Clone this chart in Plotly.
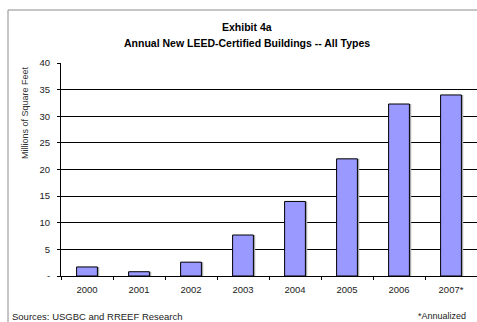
import plotly.graph_objects as go

years = ["2000", "2001", "2002", "2003", "2004", "2005", "2006", "2007*"]
values = [1.7, 0.8, 2.6, 7.7, 14.0, 22.0, 32.3, 34.0]
ytick_vals = [0, 5, 10, 15, 20, 25, 30, 35, 40]
ytick_text = ["-", "5", "10", "15", "20", "25", "30", "35", "40"]

W, H = 477, 322
L, R, T, B = 61, 0, 63, 46
PW = W - L - R
PH = H - T - B

def px_x(px):
    return (px - L) / PW

def px_y(py):
    return (H - B - py) / PH

FONT = "Liberation Sans, Arial, sans-serif"

fig = go.Figure()
# shadow
fig.add_trace(go.Bar(x=years, y=values, width=0.4, offset=-0.2 + 0.035,
                     marker=dict(color="#a8a8a8", line=dict(width=0)),
                     hoverinfo="skip", showlegend=False))
fig.add_trace(go.Bar(x=years, y=values, width=0.4, offset=-0.2,
                     marker=dict(color="#9999FF", line=dict(color="#000000", width=1)),
                     showlegend=False))

fig.update_layout(
    width=W, height=H,
    margin=dict(l=L, r=R, t=T, b=B),
    paper_bgcolor="white", plot_bgcolor="white",
    barmode="overlay",
    font=dict(family=FONT, size=9, color="#222222"),
    xaxis=dict(type="category", showgrid=False, showline=True, linecolor="black", linewidth=1,
               ticks="outside", tickson="boundaries", ticklen=3, tickcolor="black",
               ticklabelstandoff=5,
               tickfont=dict(size=9.5, color="#222222"), zeroline=False),
    yaxis=dict(range=[0, 40], tickvals=ytick_vals, ticktext=ytick_text,
               showgrid=True, gridcolor="black", gridwidth=1,
               showline=True, linecolor="black", linewidth=1,
               ticks="outside", ticklen=3, tickcolor="black",
               ticklabelstandoff=5,
               tickfont=dict(size=9.5, color="#222222"), zeroline=False),
    shapes=[dict(type="rect", xref="paper", yref="paper",
                 x0=px_x(8), x1=px_x(490), y0=px_y(340), y1=px_y(10),
                 line=dict(color="#8c8c8c", width=1), layer="below")],
    annotations=[
        dict(text="<b>Exhibit 4a</b>", xref="paper", yref="paper", x=px_x(247), y=px_y(27),
             xanchor="center", yanchor="middle", showarrow=False, font=dict(size=10.5, color="#000")),
        dict(text="<b>Annual New LEED-Certified Buildings -- All Types</b>", xref="paper", yref="paper",
             x=px_x(247), y=px_y(43), xanchor="center", yanchor="middle", showarrow=False,
             font=dict(size=10.5, color="#000")),
        dict(text="Millions of Square Feet", xref="paper", yref="paper", x=px_x(25), y=px_y(113),
             xanchor="center", yanchor="middle", textangle=-90, showarrow=False,
             font=dict(size=9, color="#333")),
        dict(text="Sources: USGBC and RREEF Research", xref="paper", yref="paper", x=px_x(10), y=px_y(316),
             xanchor="left", yanchor="middle", showarrow=False, font=dict(size=9.5, color="#222")),
        dict(text="*Annualized", xref="paper", yref="paper", x=px_x(468), y=px_y(316),
             xanchor="right", yanchor="middle", showarrow=False, font=dict(size=9, color="#222")),
    ],
)

fig.write_html("out.html")
